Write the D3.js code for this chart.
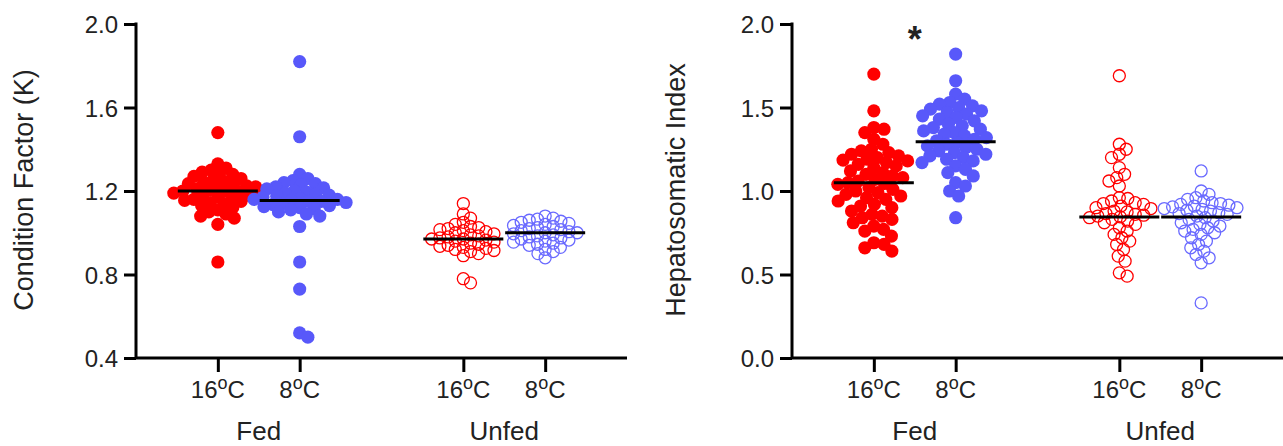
<!DOCTYPE html>
<html>
<head>
<meta charset="utf-8">
<script src="https://cdn.jsdelivr.net/npm/d3@7"></script>
<style>
  body { margin: 0; background: #fff; }
  svg text { font-family: "Liberation Sans", Arial, sans-serif; fill: #222; }
</style>
</head>
<body>
<svg id="chart" width="1283" height="446"></svg>
<script>
// categories along each x axis
const groups = ["Fed", "Unfed"];
const temps = ["16", "8"];
const catPos = [1, 2, 4, 5];          // Fed 16, Fed 8, Unfed 16, Unfed 8
const groupPos = [1.5, 4.5];

// Condition factor (K) values per group
const kFed16 = [1.48, 1.33, 1.31, 1.30, 1.29, 1.28, 1.28, 1.27, 1.26, 1.25, 1.245, 1.24, 1.235, 1.23, 1.225,
  1.22, 1.215, 1.21, 1.205, 1.20, 1.20, 1.195, 1.19, 1.185, 1.18, 1.175, 1.17, 1.165, 1.16, 1.155, 1.15,
  1.145, 1.14, 1.13, 1.12, 1.11, 1.10, 1.09, 1.08, 1.07, 1.04, 0.86];
const kFed8 = [1.82, 1.46, 1.28, 1.26, 1.25, 1.24, 1.235, 1.23, 1.22, 1.215, 1.21, 1.20, 1.195, 1.19, 1.185,
  1.18, 1.175, 1.17, 1.165, 1.16, 1.16, 1.155, 1.15, 1.15, 1.145, 1.14, 1.135, 1.13, 1.125, 1.12, 1.115,
  1.11, 1.10, 1.09, 1.08, 1.03, 0.86, 0.73, 0.52, 0.50];
const kUnfed16 = [1.14, 1.09, 1.07, 1.05, 1.04, 1.03, 1.025, 1.02, 1.015, 1.01, 1.005, 1.00, 0.995, 0.99, 0.985,
  0.98, 0.975, 0.97, 0.97, 0.965, 0.96, 0.955, 0.95, 0.945, 0.94, 0.935, 0.93, 0.925, 0.92, 0.915, 0.91,
  0.90, 0.89, 0.78, 0.76];
const kUnfed8 = [1.08, 1.07, 1.065, 1.06, 1.055, 1.05, 1.045, 1.04, 1.035, 1.03, 1.025, 1.02, 1.015, 1.01,
  1.005, 1.00, 1.00, 0.995, 0.99, 0.985, 0.98, 0.975, 0.97, 0.965, 0.96, 0.955, 0.95, 0.945, 0.94, 0.93,
  0.92, 0.91, 0.90, 0.88];
const kMedians = [1.20, 1.155, 0.97, 1.00];
const kTicks = [0.4, 0.8, 1.2, 1.6, 2.0];

// Hepatosomatic index values per group
const hFed16 = [1.70, 1.48, 1.38, 1.37, 1.35, 1.31, 1.28, 1.25, 1.24, 1.23, 1.22, 1.21, 1.20, 1.19, 1.185,
  1.18, 1.17, 1.16, 1.15, 1.14, 1.12, 1.11, 1.10, 1.09, 1.08, 1.07, 1.06, 1.05, 1.045, 1.04, 1.02, 1.01,
  1.00, 0.99, 0.98, 0.97, 0.96, 0.95, 0.94, 0.92, 0.91, 0.90, 0.88, 0.86, 0.85, 0.84, 0.83, 0.81, 0.79,
  0.77, 0.76, 0.73, 0.69, 0.68, 0.66, 0.64];
const hFed8 = [1.82, 1.66, 1.58, 1.55, 1.53, 1.52, 1.51, 1.50, 1.49, 1.48, 1.47, 1.46, 1.45, 1.44, 1.43,
  1.42, 1.40, 1.39, 1.38, 1.37, 1.36, 1.35, 1.34, 1.33, 1.32, 1.31, 1.30, 1.29, 1.28, 1.27, 1.26, 1.25,
  1.24, 1.23, 1.22, 1.21, 1.20, 1.19, 1.18, 1.17, 1.15, 1.13, 1.11, 1.09, 1.05, 1.03, 1.00, 0.97, 0.84];
const hUnfed16 = [1.69, 1.28, 1.25, 1.22, 1.20, 1.14, 1.10, 1.08, 1.06, 1.03, 0.96, 0.955, 0.94, 0.93, 0.925,
  0.92, 0.91, 0.90, 0.895, 0.88, 0.875, 0.865, 0.86, 0.855, 0.85, 0.845, 0.84, 0.83, 0.82, 0.81, 0.80, 0.78,
  0.76, 0.74, 0.72, 0.70, 0.68, 0.65, 0.61, 0.58, 0.51, 0.49];
const hUnfed8 = [1.12, 1.00, 0.98, 0.96, 0.95, 0.94, 0.93, 0.925, 0.92, 0.915, 0.91, 0.905, 0.90, 0.895, 0.89,
  0.885, 0.88, 0.87, 0.865, 0.86, 0.85, 0.84, 0.83, 0.82, 0.81, 0.80, 0.79, 0.78, 0.77, 0.76, 0.75, 0.74,
  0.72, 0.70, 0.68, 0.66, 0.64, 0.62, 0.60, 0.57, 0.33];
const hMedians = [1.05, 1.295, 0.845, 0.845];
const hTicks = [0.0, 0.5, 1.0, 1.5, 2.0];

const RED = "#ff0000", BLUE = "#5858fa", BLUE_OPEN = "#6a6aff";
const seriesStyle = [
  { color: RED, filled: true },
  { color: BLUE, filled: true },
  { color: RED, filled: false },
  { color: BLUE_OPEN, filled: false }
];

const svg = d3.select("#chart");
const plotTop = 24, plotBottom = 358, axisW = 491;

// simple beeswarm: place each point as close to the centre as it can go
function swarm(vals, y, minDist) {
  const placed = [];
  const sorted = vals.slice().sort((a, b) => b - a);
  sorted.forEach(v => {
    const py = y(v);
    const near = placed.filter(p => Math.abs(p.y - py) < minDist);
    const cands = [0];
    near.forEach(p => {
      const dx = Math.sqrt(minDist * minDist - (p.y - py) ** 2);
      cands.push(p.dx + dx, p.dx - dx);
    });
    cands.sort((a, b) => Math.abs(a) - Math.abs(b));
    const ok = cands.find(c => near.every(p => (p.dx - c) ** 2 + (p.y - py) ** 2 >= minDist * minDist - 0.01));
    placed.push({ v: v, y: py, dx: ok });
  });
  return placed;
}

function drawPanel(opts) {
  const g = svg.append("g").attr("transform", `translate(${opts.left},0)`);
  const x = d3.scaleLinear().domain([0, 6]).range([0, axisW]);
  const y = d3.scaleLinear().domain([opts.ticks[0], opts.ticks[opts.ticks.length - 1]]).range([plotBottom, plotTop]);

  // points
  opts.series.forEach((vals, i) => {
    const st = seriesStyle[i];
    const pts = swarm(vals, y, opts.spacing[i]);
    g.append("g").selectAll("circle")
      .data(pts)
      .enter().append("circle")
      .attr("cx", d => x(catPos[i]) + d.dx)
      .attr("cy", d => d.y)
      .attr("r", st.filled ? 6.6 : 6)
      .attr("fill", st.filled ? st.color : "none")
      .attr("stroke", st.color)
      .attr("stroke-width", st.filled ? 0 : 1.3);
  });

  // median lines
  g.append("g").selectAll("line")
    .data(opts.medians)
    .enter().append("line")
    .attr("x1", (d, i) => x(catPos[i]) - 40)
    .attr("x2", (d, i) => x(catPos[i]) + 40)
    .attr("y1", d => y(d))
    .attr("y2", d => y(d))
    .attr("stroke", "#000")
    .attr("stroke-width", 3);

  // y axis
  const ya = g.append("g")
    .call(d3.axisLeft(y).tickValues(opts.ticks).tickSize(12).tickPadding(6).tickFormat(d3.format(".1f")));
  ya.select(".domain").attr("d", `M0,${plotTop - 1.5}V${plotBottom}`);
  ya.selectAll("path, line").attr("stroke", "#000").attr("stroke-width", 3);
  ya.selectAll("text").style("font-size", "24px").style("fill", "#222").attr("dy", "0.36em");

  // x axis
  const xa = g.append("g")
    .attr("transform", `translate(0,${plotBottom})`)
    .call(d3.axisBottom(x).tickValues(catPos).tickSize(14).tickFormat(""));
  xa.select(".domain").attr("d", `M0,0H${axisW}`);
  xa.selectAll("path, line").attr("stroke", "#000").attr("stroke-width", 3);

  catPos.forEach((p, i) => {
    const t = g.append("text")
      .attr("x", x(p))
      .attr("y", 398)
      .attr("text-anchor", "middle")
      .style("font-size", "24px");
    t.append("tspan").text(temps[i % 2]);
    t.append("tspan").attr("dy", -9).style("font-size", "18px").text("o");
    t.append("tspan").attr("dy", 9).text("C");
  });

  groups.forEach((name, i) => {
    g.append("text")
      .attr("x", x(groupPos[i]))
      .attr("y", 440)
      .attr("text-anchor", "middle")
      .style("font-size", "26px")
      .text(name);
  });

  g.append("text")
    .attr("transform", `translate(${opts.titleX},190) rotate(-90)`)
    .attr("text-anchor", "middle")
    .style("font-size", "27px")
    .text(opts.title);

  return { g, x, y };
}

drawPanel({
  left: 136,
  ticks: kTicks,
  series: [kFed16, kFed8, kUnfed16, kUnfed8],
  spacing: [9.2, 9.2, 8.3, 8.3],
  medians: kMedians,
  title: "Condition Factor (K)",
  titleX: 33 - 136
});

const right = drawPanel({
  left: 792,
  ticks: hTicks,
  series: [hFed16, hFed8, hUnfed16, hUnfed8],
  spacing: [10.3, 10.3, 8.5, 8.5],
  medians: hMedians,
  title: "Hepatosomatic Index",
  titleX: 685 - 792
});

// significance marker between fed groups
right.g.append("text")
  .attr("x", right.x(1.5))
  .attr("y", 52)
  .attr("text-anchor", "middle")
  .style("font-size", "36px")
  .style("font-weight", "bold")
  .text("*");
</script>
</body>
</html>
